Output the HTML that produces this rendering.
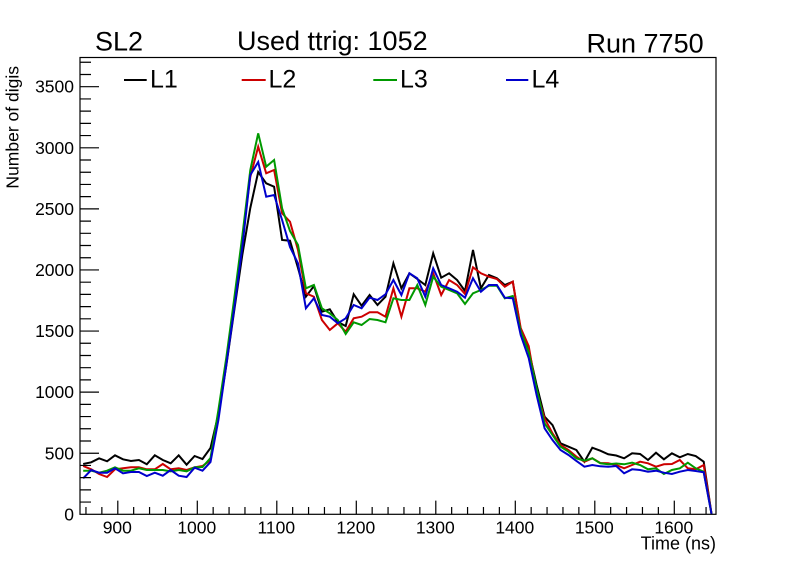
<!DOCTYPE html>
<html>
<head>
<meta charset="utf-8">
<style>
  html, body { margin: 0; padding: 0; background: #ffffff; }
  svg { display: block; }
  text { font-family: "Liberation Sans", Arial, sans-serif; fill: #000; }
</style>
</head>
<body>
<svg width="796" height="572" viewBox="0 0 796 572" xmlns="http://www.w3.org/2000/svg">
  <rect x="0" y="0" width="796" height="572" fill="#ffffff"/>

  <!-- Titles -->
  <text x="95" y="50.7" font-size="27">SL2</text>
  <text x="237" y="50" font-size="27">Used ttrig: 1052</text>
  <text x="586.5" y="52.7" font-size="27">Run 7750</text>

  <!-- Data series -->
  <g fill="none" stroke-width="2" stroke-linejoin="miter">
    <polyline stroke="#000000" points="83.2,464 91.2,462.3 99.1,458.3 107.1,461.3 115,455.3 123,459.3 130.9,461 138.9,460 146.8,464.3 154.8,455.3 162.8,460 170.7,463.3 178.7,455.3 186.6,464.7 194.6,456 202.5,459 210.5,448 218.4,414 226.4,365 234.3,310 242.3,255 250.3,208 258.2,172 266.2,183.3 274.1,186.7 282.1,240 290,240.7 298,268 305.9,296.7 313.9,286 321.9,311.7 329.8,309.3 337.8,322 345.7,326 353.7,294.3 361.6,305.7 369.6,295 377.5,305 385.5,296.7 393.4,263.3 401.4,288.3 409.4,273.3 417.3,279 425.3,285 433.2,253.3 441.2,277.7 449.1,273.3 457.1,280 465,291 473,250 480.9,288.3 488.9,275 496.9,278.3 504.8,285 512.8,281.7 520.7,330 528.7,350 536.6,385 544.6,416.7 552.5,425 560.5,443.3 568.5,446.7 576.4,450 584.4,461.7 592.3,447.7 600.3,450.7 608.2,454.3 616.2,455.5 624.1,458.3 632.1,453.3 640.1,454 648,460 656,452.7 663.9,459.3 671.9,453.3 679.8,457.3 687.8,454 695.7,456 703.7,461.7 711.6,514.3"/>
    <polyline stroke="#cc0000" points="83.2,466 91.2,469.3 99.1,474 107.1,477 115,469.3 123,468.3 130.9,467.3 138.9,467.3 146.8,469.3 154.8,469.3 162.8,464 170.7,469.3 178.7,468.3 186.6,470 194.6,467.3 202.5,466 210.5,460 218.4,417 226.4,363 234.3,305 242.3,238 250.3,177 258.2,146.7 266.2,173.3 274.1,170 282.1,213.3 290,221.7 298,250 305.9,293.3 313.9,296.7 321.9,320 329.8,330 337.8,323.3 345.7,331.7 353.7,318.3 361.6,316.7 369.6,312.3 377.5,312.3 385.5,316.7 393.4,288.3 401.4,316.7 409.4,288.3 417.3,288.3 425.3,291.7 433.2,273.3 441.2,295 449.1,280 457.1,285 465,294 473,267.3 480.9,273.3 488.9,276.7 496.9,279 504.8,286.7 512.8,281.7 520.7,328 528.7,346 536.6,391.7 544.6,418.3 552.5,433.3 560.5,445 568.5,450 576.4,456.7 584.4,461.7 592.3,458.3 600.3,463 608.2,463.3 616.2,465 624.1,468.3 632.1,465 640.1,461.7 648,463.3 656,466.7 663.9,464.3 671.9,464 679.8,460 687.8,468.3 695.7,469.3 703.7,465 711.6,514.3"/>
    <polyline stroke="#009900" points="83.2,470.7 91.2,470.7 99.1,472.7 107.1,470.7 115,467.3 123,470.7 130.9,470.7 138.9,468.3 146.8,470 154.8,470 162.8,470 170.7,471.3 178.7,470 186.6,471.3 194.6,467.3 202.5,467 210.5,458 218.4,410 226.4,357 234.3,298 242.3,236 250.3,170 258.2,133.3 266.2,166.7 274.1,160 282.1,208.3 290,231 298,245 305.9,288.3 313.9,285 321.9,308.3 329.8,313.3 337.8,320 345.7,334 353.7,322.3 361.6,325 369.6,319 377.5,320 385.5,322.3 393.4,298.3 401.4,300 409.4,300 417.3,285 425.3,305 433.2,276.7 441.2,286.7 449.1,290 457.1,293.3 465,304 473,293.3 480.9,290 488.9,285.7 496.9,285.7 504.8,298.3 512.8,296 520.7,331 528.7,352 536.6,388.3 544.6,423.3 552.5,435 560.5,446.7 568.5,451.7 576.4,458.3 584.4,460.7 592.3,458.3 600.3,463.3 608.2,464.3 616.2,463.5 624.1,464.3 632.1,462.7 640.1,465 648,469.3 656,468.3 663.9,474 671.9,470 679.8,468.3 687.8,462.7 695.7,468.3 703.7,471.7 711.6,514.3"/>
    <polyline stroke="#0000cc" points="83.2,478.3 91.2,470 99.1,472.7 107.1,472.7 115,468.3 123,473.3 130.9,472 138.9,472 146.8,476 154.8,472.7 162.8,475.7 170.7,470 178.7,475.7 186.6,477 194.6,467.7 202.5,470.7 210.5,462 218.4,420 226.4,364 234.3,308 242.3,247 250.3,175 258.2,162 266.2,196.7 274.1,195 282.1,220 290,247 298,263.3 305.9,308.3 313.9,298.3 321.9,315 329.8,316.7 337.8,323.3 345.7,318.3 353.7,305 361.6,308.3 369.6,297.7 377.5,300 385.5,294.3 393.4,280 401.4,295 409.4,273.3 417.3,278.3 425.3,296.7 433.2,268.3 441.2,285 449.1,288.3 457.1,291.7 465,297.7 473,278.3 480.9,291.7 488.9,285 496.9,285 504.8,297.7 512.8,298.3 520.7,335 528.7,358 536.6,395 544.6,428.3 552.5,440 560.5,450 568.5,455 576.4,461 584.4,466.7 592.3,465 600.3,466.3 608.2,466.7 616.2,466 624.1,473.3 632.1,469.3 640.1,470 648,471.7 656,470.7 663.9,472.7 671.9,474 679.8,471.7 687.8,470 695.7,471 703.7,472.3 711.6,514.3"/>
  </g>

  <!-- Frame -->
  <rect x="80" y="57.5" width="636" height="456.8" fill="none" stroke="#000" stroke-width="1.2"/>

  <!-- Y axis ticks -->
  <g stroke="#000" stroke-width="1.2">
    <path d="M80,453.22H99 M80,392.13H99 M80,331.04H99 M80,269.96H99 M80,208.87H99 M80,147.79H99 M80,86.7H99"/>
    <path d="M80,502.08H91 M80,489.87H91 M80,477.65H91 M80,465.43H91
             M80,441H91 M80,428.78H91 M80,416.56H91 M80,404.35H91
             M80,379.91H91 M80,367.7H91 M80,355.48H91 M80,343.26H91
             M80,318.83H91 M80,306.61H91 M80,294.39H91 M80,282.18H91
             M80,257.74H91 M80,245.53H91 M80,233.31H91 M80,221.09H91
             M80,196.66H91 M80,184.44H91 M80,172.22H91 M80,160.01H91
             M80,135.57H91 M80,123.36H91 M80,111.14H91 M80,98.92H91
             M80,74.49H91 M80,62.27H91"/>
  </g>

  <!-- X axis ticks -->
  <g stroke="#000" stroke-width="1.2">
    <path d="M117.8,514.3V500.6 M197.3,514.3V500.6 M276.8,514.3V500.6 M356.3,514.3V500.6 M435.8,514.3V500.6 M515.3,514.3V500.6 M594.8,514.3V500.6 M674.3,514.3V500.6"/>
    <path d="M85.96,514.3V507 M101.86,514.3V507 M133.66,514.3V507 M149.56,514.3V507 M165.46,514.3V507 M181.36,514.3V507
             M213.16,514.3V507 M229.06,514.3V507 M244.96,514.3V507 M260.86,514.3V507
             M292.66,514.3V507 M308.56,514.3V507 M324.46,514.3V507 M340.36,514.3V507
             M372.16,514.3V507 M388.06,514.3V507 M403.96,514.3V507 M419.86,514.3V507
             M451.66,514.3V507 M467.56,514.3V507 M483.46,514.3V507 M499.36,514.3V507
             M531.16,514.3V507 M547.06,514.3V507 M562.96,514.3V507 M578.86,514.3V507
             M610.66,514.3V507 M626.56,514.3V507 M642.46,514.3V507 M658.36,514.3V507
             M690.16,514.3V507 M706.06,514.3V507"/>
  </g>

  <!-- Y tick labels -->
  <g font-size="17.5" text-anchor="end">
    <text x="74" y="520.4">0</text>
    <text x="74" y="459.3">500</text>
    <text x="74" y="398.2">1000</text>
    <text x="74" y="337.1">1500</text>
    <text x="74" y="276">2000</text>
    <text x="74" y="214.9">2500</text>
    <text x="74" y="153.8">3000</text>
    <text x="74" y="92.7">3500</text>
  </g>

  <!-- X tick labels -->
  <g font-size="17.5" text-anchor="middle">
    <text x="117.3" y="533.4">900</text>
    <text x="196.8" y="533.4">1000</text>
    <text x="276.3" y="533.4">1100</text>
    <text x="355.8" y="533.4">1200</text>
    <text x="435.3" y="533.4">1300</text>
    <text x="514.8" y="533.4">1400</text>
    <text x="594.3" y="533.4">1500</text>
    <text x="673.8" y="533.4">1600</text>
  </g>

  <!-- Axis titles -->
  <text x="716" y="549.5" font-size="18" text-anchor="end">Time (ns)</text>
  <text transform="translate(18.5,66) rotate(-90)" font-size="17.5" text-anchor="end">Number of digis</text>

  <!-- Legend -->
  <g stroke-width="2">
    <line x1="124" y1="80" x2="146.7" y2="80" stroke="#000000"/>
    <line x1="241.7" y1="80" x2="265.7" y2="80" stroke="#cc0000"/>
    <line x1="373.3" y1="80" x2="397" y2="80" stroke="#009900"/>
    <line x1="506" y1="80" x2="528.3" y2="80" stroke="#0000cc"/>
  </g>
  <g font-size="25">
    <text x="150" y="87.3">L1</text>
    <text x="268.5" y="87.3">L2</text>
    <text x="400" y="87.3">L3</text>
    <text x="531.5" y="87.3">L4</text>
  </g>
</svg>
</body>
</html>
